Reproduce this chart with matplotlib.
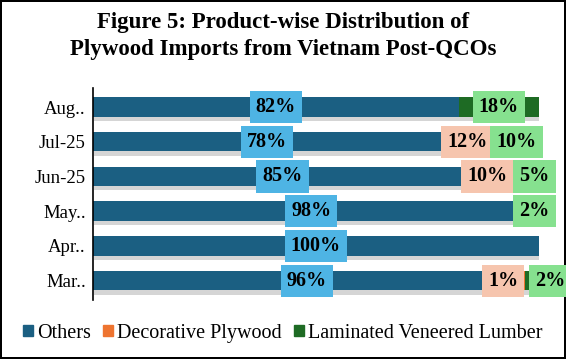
#product-wise distribution of plywood imports, 100% stacked bars
import numpy as np
import matplotlib.pyplot as plt
import matplotlib.patheffects as pe
from matplotlib.patches import Rectangle

months = ['Aug..', 'Jul-25', 'Jun-25', 'May..', 'Apr..', 'Mar..']
others = [82, 78, 85, 98, 100, 96]
decorative = [0, 12, 10, 0, 0, 1]
lvl = [18, 10, 5, 2, 0, 2]

series_names = ['Others', 'Decorative Plywood', 'Laminated Veneered Lumber']
bar_colors = ['#1B5F82', '#EE7430', '#1E6B24']
box_colors = ['#4EB4E4', '#F6C5AE', '#86E18F']

plt.rcParams['font.family'] = ['Liberation Serif', 'DejaVu Serif']

fig = plt.figure(figsize=(5.66, 3.59), dpi=100, edgecolor='black', linewidth=1.5)
ax = fig.add_axes([0.164, 0.165, 0.788, 0.59])

y = np.arange(len(months))[::-1]
others = np.array(others)
decorative = np.array(decorative)
lvl = np.array(lvl)
lefts = [np.zeros(len(months)), others, others + decorative]
vals = [others, decorative, lvl]

shadow = [pe.SimplePatchShadow(offset=(0.5, -3), shadow_rgbFace='#888888', alpha=0.35), pe.Normal()]
for v, l, c in zip(vals, lefts, bar_colors):
    bars = ax.barh(y, v, left=l, height=0.56, color=c)
    for b in bars:
        b.set_path_effects(shadow)

#label positions: segment centres, pushed apart when the boxes would collide
min_gap = 10.5
for i in range(len(months)):
    xs = [lefts[k][i] + vals[k][i] / 2 for k in range(3)]
    if vals[1][i] > 0 and vals[2][i] > 0 and xs[2] - xs[1] < min_gap:
        mid = (xs[1] + xs[2]) / 2
        xs[1] = mid - min_gap / 2
        xs[2] = mid + min_gap / 2
    for k in range(3):
        if vals[k][i] > 0:
            ax.text(xs[k], y[i], '{}%'.format(vals[k][i]), ha='center', va='center',
                    fontsize=14.5, fontweight='bold', zorder=5,
                    bbox=dict(boxstyle='square,pad=0.3', fc=box_colors[k], ec='none'))

ax.set_xlim(0, 100)
ax.set_ylim(-0.55, len(months) - 0.45)
ax.set_yticks(y)
ax.set_yticklabels(months, fontsize=13.5)
ax.tick_params(axis='y', length=0, pad=5)
ax.set_xticks([])
for s in ['top', 'right', 'bottom']:
    ax.spines[s].set_visible(False)
ax.spines['left'].set_linewidth(1.2)

fig.text(0.5, 0.9, 'Figure 5: Product-wise Distribution of\nPlywood Imports from Vietnam Post-QCOs',
         ha='center', va='center', fontsize=16.5, fontweight='bold', linespacing=1.35)

handles = [Rectangle((0, 0), 1, 1, color=c) for c in bar_colors]
fig.legend(handles, series_names, loc='center', bbox_to_anchor=(0.5, 0.072), ncol=3,
           frameon=False, fontsize=14.5, handlelength=0.5, handleheight=0.5,
           handletextpad=0.2, columnspacing=0.6)

plt.savefig('out.png', dpi=100, edgecolor=fig.get_edgecolor())
